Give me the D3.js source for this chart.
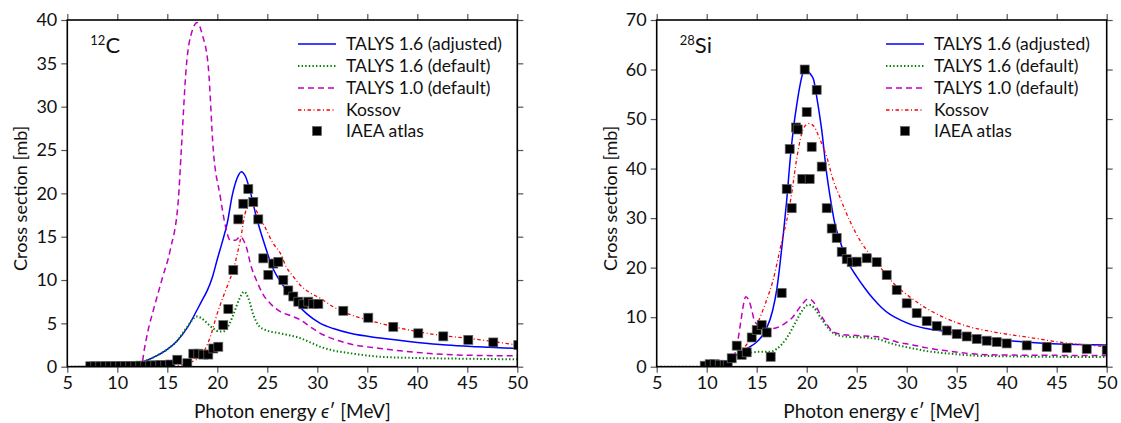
<!DOCTYPE html>
<html>
<head>
<meta charset="utf-8">
<script src="https://cdn.jsdelivr.net/npm/d3@7"></script>
<style>
  html, body { margin: 0; padding: 0; background: #fff; overflow: hidden; }
  svg { display: block; }
  text { font-family: Lato, "Open Sans", sans-serif; fill: #111; }
</style>
</head>
<body>
<svg width="1121" height="423"></svg>
<script>
// ---- 12C data [energy, mb] ----
const c12Adjusted = [[5,0],[8,0.02],[10,0.1],[11,0.2],[12,0.35],[13,0.75],[14,1.3],[15,2.0],[16,3.0],[17,4.5],[18,6.6],[18.5,7.7],[19,8.8],[19.5,10.3],[20,12.4],[20.5,14.4],[21,16.6],[21.5,19.8],[22,21.8],[22.4,22.5],[22.8,22.0],[23.3,20.2],[23.9,17.3],[24.4,15.3],[24.9,13.5],[25.5,11.5],[26,10.4],[26.5,9.5],[27,8.7],[28,7.2],[28.9,6.15],[30.3,5.0],[31.6,4.4],[33.3,3.85],[36.3,3.3],[40,2.8],[42.9,2.5],[46,2.3],[50,2.1]];
const c12Default16 = [[5,0],[8,0.02],[10,0.1],[11,0.2],[12,0.35],[13,0.75],[14,1.3],[15,2.0],[16,3.0],[16.5,3.8],[17,4.6],[17.5,5.4],[17.9,5.8],[18.4,5.6],[19,5.0],[19.6,4.4],[20.2,4.05],[20.7,4.1],[21.2,4.9],[21.7,6.3],[22.2,7.8],[22.7,8.65],[23.1,7.9],[23.6,6.0],[24.1,4.8],[24.9,4.2],[26.3,3.85],[27.3,3.6],[28.3,3.3],[29.3,2.8],[30.3,2.3],[31.5,1.9],[33,1.6],[36.3,1.15],[40,1.0],[42.9,0.95],[50,0.85]];
const c12Default10 = [[5,0],[12.4,0],[12.7,2.0],[13.1,4.3],[13.6,6.5],[14.5,10.2],[15.3,13.5],[16.1,19.2],[16.4,25],[16.9,34.6],[17.5,38.8],[18.0,39.7],[18.5,38.3],[19.1,34.6],[19.6,25],[20.3,19.6],[20.8,16.3],[21.3,14.6],[21.8,14.6],[22.3,15.0],[22.9,13.8],[23.4,11.5],[23.9,10],[24.6,8.3],[25.3,7.3],[26.3,6.35],[27.3,5.9],[28.3,5.4],[29.3,4.6],[30.3,3.85],[31.6,3.2],[33,2.7],[36.3,2.1],[40,1.65],[42.9,1.4],[46,1.3],[50,1.25]];
const c12Kossov = [[5,0],[15,0],[16,0.1],[17,0.4],[17.7,0.7],[18.3,1.15],[18.9,2.3],[19.4,3.8],[19.9,5.8],[20.5,7.8],[21.1,9.6],[21.6,11.2],[22.3,14.6],[22.9,18.1],[23.4,18.65],[24,17.8],[24.6,16.5],[25.6,14.2],[26.3,13.1],[26.9,11.5],[27.6,10.4],[28.3,9.4],[29.3,8.5],[30.3,7.9],[31.6,6.9],[33,6.15],[36.3,5.0],[41,3.85],[46.3,3.1],[50,2.5]];
const c12Iaea = [[7.3,0.05],[7.8,0.05],[8.3,0.05],[8.8,0.06],[9.3,0.06],[9.8,0.07],[10.3,0.08],[10.8,0.08],[11.3,0.1],[11.8,0.1],[12.3,0.12],[12.8,0.12],[13.3,0.15],[13.8,0.15],[14.3,0.2],[14.8,0.2],[15.3,0.25],[16.0,0.8],[17.0,0.4],[17.6,1.5],[18.1,1.5],[18.6,1.4],[19.1,1.4],[19.6,2.1],[20.1,2.3],[20.6,4.8],[21.1,6.65],[21.6,11.15],[22.1,17.0],[22.6,18.8],[23.1,20.5],[23.6,19.0],[24.1,17.0],[24.6,12.5],[25.1,10.6],[25.6,11.9],[26.1,12.1],[26.6,10.0],[27.1,8.8],[27.6,8.1],[28.1,7.5],[28.6,7.2],[29.1,7.5],[29.6,7.25],[30.1,7.25],[32.6,6.45],[35.1,5.65],[37.6,4.6],[40.1,3.85],[42.6,3.5],[45.1,3.1],[47.6,2.8],[50.1,2.5]];

// ---- 28Si data [energy, mb] ----
const si28Adjusted = [[5,0],[9,0],[10,0.05],[11,0.2],[12,0.7],[12.5,1.3],[13,2.4],[13.6,3.2],[14.3,4.0],[15,5.0],[15.5,6.1],[16,7.8],[16.6,11.4],[17,15.5],[17.3,20.2],[17.7,27.5],[18.0,33.6],[18.4,43],[18.7,48.5],[19.0,52.8],[19.3,56.5],[19.6,59.2],[19.8,59.9],[20.1,59.7],[20.4,59.0],[20.7,57.9],[21.0,54.5],[21.5,47.8],[22.0,39],[22.4,33.6],[22.8,29],[23.3,25.6],[24,21.6],[25,18.2],[25.8,15.9],[26.7,13.6],[27.5,11.9],[28.3,10.6],[29.5,9.3],[30.6,8.4],[32,7.7],[34,7.1],[37.3,5.9],[40,5.3],[44,4.7],[47,4.5],[50,4.4]];
const si28Default16 = [[5,0],[9,0],[10,0.05],[11,0.2],[12,0.6],[12.5,1.2],[13,2.0],[13.5,2.5],[14.3,2.8],[15.2,3.0],[16.3,3.0],[17,3.6],[17.5,4.5],[18,5.8],[18.5,7.5],[19,9.4],[19.5,11.2],[20.2,12.5],[20.7,12.0],[21.2,10.5],[21.7,9.0],[22.2,7.7],[22.8,6.6],[24,6.05],[25,5.95],[26,5.85],[27.3,5.5],[28,5.0],[29,4.4],[30.6,3.7],[32,3.15],[34,2.7],[37.3,2.2],[40,2.1],[44,2.0],[50,1.95]];
const si28Default10 = [[5,0],[9.5,0],[11,0.1],[12,0.4],[12.6,1.5],[13.0,4],[13.4,9],[13.7,12.8],[13.9,14.1],[14.2,13.5],[14.5,11.5],[14.8,9.1],[15.3,8.3],[16,7.75],[16.6,7.7],[17.3,8.1],[18,9.0],[18.6,10],[19,11.1],[19.5,12.5],[20.15,13.7],[20.7,13.0],[21.3,10.8],[22,8.6],[22.6,7.1],[23.3,6.6],[24,6.4],[25,6.3],[26.6,6.1],[27.3,6.0],[28,5.6],[29,5.0],[30.6,4.4],[32,3.8],[34,3.2],[37.3,2.5],[40,2.35],[44,2.3],[50,2.25]];
const si28Kossov = [[5,0],[9,0],[10,0.1],[11,0.3],[12,0.9],[13,2.5],[14.3,5.4],[15.3,9.8],[16,13.5],[16.6,17.2],[17.1,21.5],[17.6,26.2],[18.0,29.5],[18.5,35],[19.0,42],[19.7,48.2],[20.2,49.1],[20.7,48.6],[21.3,46],[22.0,42.4],[22.6,38],[23.3,34.3],[24.3,29.5],[25.3,25.6],[26.3,22.7],[27.3,20.2],[28.7,16.8],[30.3,14.1],[32.3,11.4],[34,9.7],[35.7,8.4],[39,6.9],[42.3,5.9],[45.7,4.85],[50,4.05]];
const si28Iaea = [[9.8,0.2],[10.3,0.5],[10.8,0.5],[11.3,0.4],[11.8,0.35],[12.1,0.35],[12.5,1.7],[13.0,4.25],[13.5,2.4],[14.0,2.9],[14.5,5.9],[15.0,7.4],[15.5,8.4],[16.0,6.9],[16.4,2.0],[17.5,14.9],[18.0,35.9],[18.3,43.95],[18.5,32.0],[18.93,48.3],[19.1,47.9],[19.56,37.9],[19.8,60.0],[20.0,51.4],[20.3,37.9],[20.5,44.4],[21.0,55.9],[21.5,40.4],[22.0,32.0],[22.5,27.9],[23.0,26.0],[23.5,23.2],[24.0,21.7],[24.5,21.1],[25.0,21.2],[26.0,21.9],[27.0,21.1],[28.0,18.5],[29.0,15.5],[30.0,12.8],[31.0,10.8],[32.0,9.2],[33.0,8.2],[34.0,7.3],[35.0,6.6],[36.0,6.1],[37.0,5.6],[38.0,5.25],[39.0,5.0],[40.0,4.7],[42.0,4.3],[44.0,4.0],[46.0,3.8],[48.0,3.6],[50.0,3.4]];

const xTicks = [5, 10, 15, 20, 25, 30, 35, 40, 45, 50];
const c12YTicks = [0, 5, 10, 15, 20, 25, 30, 35, 40];
const si28YTicks = [0, 10, 20, 30, 40, 50, 60, 70];
const legendNames = ["TALYS 1.6 (adjusted)", "TALYS 1.6 (default)", "TALYS 1.0 (default)", "Kossov", "IAEA atlas"];

const styles = [
  { color: "#0000ff", width: 1.5, dash: null },
  { color: "#008000", width: 2, dash: "1.4,2.2" },
  { color: "#bf00bf", width: 1.5, dash: "6,4" },
  { color: "#ff0000", width: 1.3, dash: "3.5,2.5,1,2.5" }
];

const svg = d3.select("svg");
const innerWidth = 450;
const innerHeight = 346.7;
const marginTop = 20;

const panels = [
  { id: "c12", left: 67.3, yMax: 40, yTicks: c12YTicks, mass: "12", elem: "C",
    curves: [c12Adjusted, c12Default16, c12Default10, c12Kossov], points: c12Iaea, legendX: 298 },
  { id: "si28", left: 656.7, yMax: 70, yTicks: si28YTicks, mass: "28", elem: "Si",
    curves: [si28Adjusted, si28Default16, si28Default10, si28Kossov], points: si28Iaea, legendX: 886 }
];

panels.forEach(p => {
  const g = svg.append("g").attr("transform", `translate(${p.left},${marginTop})`);
  const x = d3.scaleLinear().domain([5, 50]).range([0, innerWidth]);
  const y = d3.scaleLinear().domain([0, p.yMax]).range([innerHeight, 0]);

  g.append("clipPath").attr("id", "clip-" + p.id)
    .append("rect").attr("width", innerWidth).attr("height", innerHeight);

  const plot = g.append("g").attr("clip-path", `url(#clip-${p.id})`);
  const line = d3.line().x(d => x(d[0])).y(d => y(d[1])).curve(d3.curveMonotoneX);

  p.curves.forEach((c, i) => {
    plot.append("path")
      .attr("d", line(c))
      .attr("fill", "none")
      .attr("stroke", styles[i].color)
      .attr("stroke-width", styles[i].width)
      .attr("stroke-dasharray", styles[i].dash);
  });

  const ms = 9;
  plot.selectAll("rect.pt")
    .data(p.points)
    .enter()
    .append("rect")
    .attr("class", "pt")
    .attr("x", d => x(d[0]) - ms / 2)
    .attr("y", d => y(d[1]) - ms / 2)
    .attr("width", ms)
    .attr("height", ms)
    .attr("fill", "#000")
    .attr("stroke", "#666")
    .attr("stroke-width", 0.7);

  // axes, ticks outward on all four sides
  const xAxisB = d3.axisBottom(x).tickValues(xTicks).tickSizeInner(6).tickSizeOuter(0).tickPadding(4);
  const xAxisT = d3.axisTop(x).tickValues(xTicks).tickSizeInner(6).tickSizeOuter(0);
  const yAxisL = d3.axisLeft(y).tickValues(p.yTicks).tickSizeInner(6).tickSizeOuter(0).tickPadding(4);
  const yAxisR = d3.axisRight(y).tickValues(p.yTicks).tickSizeInner(6).tickSizeOuter(0);

  const axB = g.append("g").attr("transform", `translate(0,${innerHeight})`).call(xAxisB);
  const axT = g.append("g").call(xAxisT);
  const axL = g.append("g").call(yAxisL);
  const axR = g.append("g").attr("transform", `translate(${innerWidth},0)`).call(yAxisR);
  // top and right only carry tick marks
  axT.selectAll(".tick text").remove();
  axR.selectAll(".tick text").remove();

  [axB, axT, axL, axR].forEach(a => {
    a.attr("font-family", null).attr("font-size", null);
    a.select(".domain").remove();
    a.selectAll(".tick line").attr("stroke", "#555").attr("stroke-width", 1.2);
    a.selectAll(".tick text").style("font-size", "18px").attr("fill", "#111");
  });

  g.append("rect")
    .attr("width", innerWidth)
    .attr("height", innerHeight)
    .attr("fill", "none")
    .attr("stroke", "#000")
    .attr("stroke-width", 1.6);

  // axis titles
  const xl = g.append("text")
    .attr("x", innerWidth / 2)
    .attr("y", innerHeight + 51)
    .attr("text-anchor", "middle")
    .style("font-size", "19px");
  xl.append("tspan").text("Photon energy ");
  xl.append("tspan").style("font-style", "italic").text("ϵ");
  xl.append("tspan").text("′ [MeV]");

  g.append("text")
    .attr("transform", `translate(-40,${innerHeight / 2 + 5}) rotate(-90)`)
    .attr("text-anchor", "middle")
    .style("font-size", "18px")
    .text("Cross section [mb]");

  // nucleus label
  const nl = g.append("text").attr("x", 23).attr("y", 33);
  nl.append("tspan").style("font-size", "13px").attr("dy", -8).text(p.mass);
  nl.append("tspan").style("font-size", "22px").attr("dy", 8).text(p.elem);

  // legend
  const lg = svg.append("g").attr("transform", `translate(${p.legendX},0)`);
  legendNames.forEach((name, i) => {
    const ly = 44 + i * 22 - (i === 4 ? 1 : 0);
    if (i < 4) {
      lg.append("line")
        .attr("x1", 0).attr("x2", 38)
        .attr("y1", ly).attr("y2", ly)
        .attr("stroke", styles[i].color)
        .attr("stroke-width", styles[i].width)
        .attr("stroke-dasharray", styles[i].dash);
    } else {
      lg.append("rect")
        .attr("x", 19 - ms / 2).attr("y", ly - ms / 2)
        .attr("width", ms).attr("height", ms)
        .attr("fill", "#000").attr("stroke", "#666").attr("stroke-width", 0.7);
    }
    lg.append("text")
      .attr("x", 48)
      .attr("y", ly)
      .attr("dy", "0.35em")
      .style("font-size", "17.5px")
      .text(name);
  });
});
</script>
</body>
</html>
